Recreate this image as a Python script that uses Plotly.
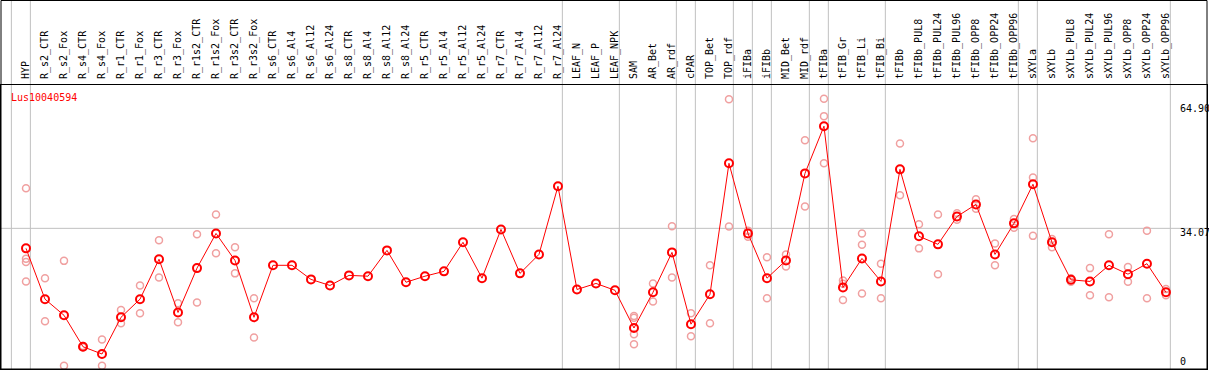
import plotly.graph_objects as go

gene = "Lus10040594"

categories = [
    "HYP", "R_s2_CTR", "R_s2_Fox", "R_s4_CTR", "R_s4_Fox", "R_r1_CTR", "R_r1_Fox",
    "R_r3_CTR", "R_r3_Fox", "R_r1s2_CTR", "R_r1s2_Fox", "R_r3s2_CTR", "R_r3s2_Fox",
    "R_s6_CTR", "R_s6_Al4", "R_s6_Al12", "R_s6_Al24", "R_s8_CTR", "R_s8_Al4",
    "R_s8_Al12", "R_s8_Al24", "R_r5_CTR", "R_r5_Al4", "R_r5_Al12", "R_r5_Al24",
    "R_r7_CTR", "R_r7_Al4", "R_r7_Al12", "R_r7_Al24", "LEAF_N", "LEAF_P", "LEAF_NPK",
    "SAM", "AR_Bet", "AR_rdf", "cPAR", "TOP_Bet", "TOP_rdf", "iFIBa", "iFIBb",
    "MID_Bet", "MID_rdf", "tFIBa", "tFIB_Gr", "tFIB_Li", "tFIB_Bi", "tFIBb",
    "tFIBb_PUL8", "tFIBb_PUL24", "tFIBb_PUL96", "tFIBb_OPP8", "tFIBb_OPP24",
    "tFIBb_OPP96", "sXYLa", "sXYLb", "sXYLb_PUL8", "sXYLb_PUL24", "sXYLb_PUL96",
    "sXYLb_OPP8", "sXYLb_OPP24", "sXYLb_OPP96",
]

mean_values = [
    29.1, 16.5, 12.5, 4.7, 2.9, 12.0, 16.5, 26.4, 13.2, 24.2, 32.8, 26.1, 12.0,
    24.9, 24.9, 21.4, 19.9, 22.4, 22.2, 28.6, 20.7, 22.2, 23.4, 30.6, 21.7,
    33.8, 22.9, 27.6, 44.5, 18.9, 20.4, 18.7,
    9.35, 18.2, 28.1, 10.3, 17.7, 50.2, 32.8, 21.7, 26.1, 47.7, 59.4,
    19.4, 26.6, 20.9, 48.7, 32.1, 30.1, 37.0, 40.0, 27.6, 35.3,
    45.0, 30.6, 21.3, 20.9, 24.9, 22.7, 25.3, 18.2,
]

replicate_values = [
    [44.0, 26.5, 25.7, 20.9], [21.7, 11.0], [26.0, 0.0], [4.9, 4.6], [6.5, 0.0],
    [13.8, 10.5], [19.9, 13.0], [31.1, 21.9], [15.5, 10.8], [32.6, 15.7],
    [37.5, 27.9], [29.4, 22.9], [16.7, 7.0],
    [], [], [], [], [], [], [], [], [], [], [], [], [], [], [], [], [], [], [],
    [12.3, 11.9, 7.8, 5.3], [20.4, 15.9], [34.6, 21.9], [13.0, 7.3], [24.9, 10.5],
    [66.1, 34.5], [33.5, 32.0], [26.9, 16.7], [27.6, 24.6], [55.9, 39.5],
    [66.2, 61.9, 50.2], [21.1, 20.3, 16.3], [32.8, 30.0, 17.9], [25.3, 16.7],
    [55.1, 42.3], [35.1, 29.1], [37.5, 22.7], [37.8, 36.2], [41.3, 38.9],
    [30.3, 24.9], [36.4, 34.2], [56.4, 46.7, 32.2], [31.4, 29.4], [21.7, 20.8],
    [24.2, 17.5], [32.6, 17.0], [24.5, 20.8], [33.5, 16.7], [19.0, 17.5],
]

# group separators: a line is drawn right after these category indices
separator_after = [-1, 0, 28, 31, 34, 35, 37, 38, 39, 41, 42, 45, 52, 53, 60]

y_tick_values = [0, 34.07, 64.90]
y_tick_text = ["0", "34.07", "64.90"]
grid_value = 34.07

W, H = 1209, 370
ML, MR, MT, MB = 1, 2, 85, 1
plot_h = H - MT - MB
top_paper = 1 + (MT - 0.5) / plot_h

x_idx = list(range(len(categories)))
rep_x, rep_y = [], []
for i, reps in enumerate(replicate_values):
    for v in reps:
        rep_x.append(i)
        rep_y.append(v)

mono = "DejaVu Sans Mono"

fig = go.Figure()
fig.add_trace(go.Scatter(
    x=rep_x, y=rep_y, mode="markers",
    marker=dict(symbol="circle-open", size=7, color="#F0A0A0", line=dict(width=1.5, color="#F0A0A0")),
    hoverinfo="skip", showlegend=False,
))
fig.add_trace(go.Scatter(
    x=x_idx, y=mean_values, mode="lines+markers",
    line=dict(color="#FF0000", width=1),
    marker=dict(symbol="circle-open", size=8, color="#FF0000", line=dict(width=2, color="#FF0000")),
    showlegend=False,
))

shapes = []
shapes.append(dict(type="line", xref="paper", yref="y", x0=0, x1=1, y0=grid_value, y1=grid_value,
                   line=dict(color="#C0C0C0", width=1), layer="below"))
for s in separator_after:
    xv = s + 0.23
    shapes.append(dict(type="line", xref="x", yref="paper", x0=xv, x1=xv, y0=0, y1=top_paper,
                       line=dict(color="#C0C0C0", width=1), layer="below"))
shapes.append(dict(type="rect", xref="paper", yref="paper", x0=0, x1=1, y0=0, y1=top_paper,
                   line=dict(color="black", width=1), fillcolor="rgba(0,0,0,0)", layer="above"))

annotations = [
    dict(text=gene, xref="paper", yref="paper", x=8 / (W - ML - MR), y=(H - MB - 97) / plot_h,
         xanchor="left", yanchor="middle", showarrow=False,
         font=dict(family=mono, size=10, color="#FF0000")),
]
for v, t in zip(y_tick_values, y_tick_text):
    shift = 4 if v == 0 else -4
    annotations.append(dict(text=t, xref="paper", yref="y", x=(1178 - ML) / (W - ML - MR), y=v,
                            yshift=shift, xanchor="left", yanchor="middle", showarrow=False,
                            font=dict(family=mono, size=10, color="black")))

fig.update_layout(
    width=W, height=H,
    margin=dict(l=ML, r=MR, t=MT, b=MB, pad=0),
    paper_bgcolor="white", plot_bgcolor="white",
    shapes=shapes, annotations=annotations,
    hovermode=False,
    xaxis=dict(
        range=[-1.316, 62.16], side="top", tickmode="array", tickvals=x_idx, ticktext=categories,
        tickangle=-90, ticks="", ticklabelstandoff=3, showgrid=False, zeroline=False,
        showline=True, linecolor="black", linewidth=1, mirror=True,
        tickfont=dict(family=mono, size=10, color="black"),
    ),
    yaxis=dict(
        range=[-0.82, 69.62], showticklabels=False, ticks="", showgrid=False, zeroline=False,
        showline=True, linecolor="black", linewidth=1, mirror=True,
    ),
    font=dict(family=mono),
)

fig.write_html("out.html", config={"displayModeBar": False, "staticPlot": True},
               post_script="document.body.style.margin='0';document.body.style.overflow='hidden';")
